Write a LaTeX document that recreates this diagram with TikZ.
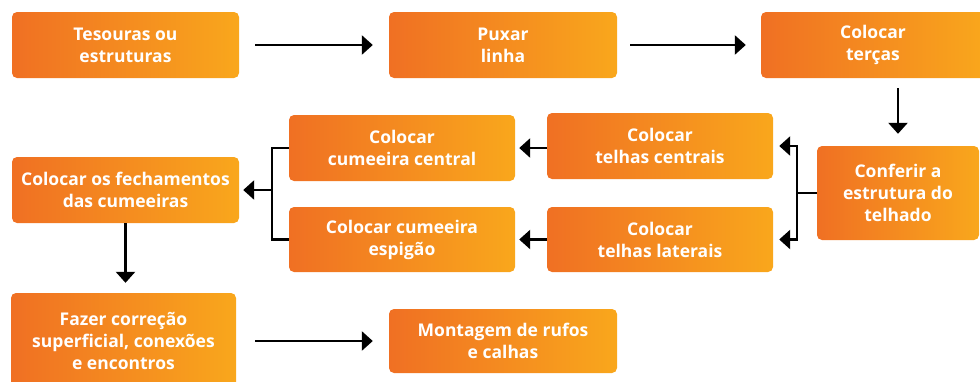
\documentclass[tikz,border=0pt]{standalone}
\usepackage{fontspec}
\setmainfont{Open Sans}
\usetikzlibrary{arrows.meta}
\definecolor{oL}{RGB}{240,112,35}
\definecolor{oR}{RGB}{249,167,28}
\tikzset{
  box/.style={rounded corners=5pt, left color=oL, right color=oR, draw=none,
    inner sep=0pt, align=center, text=white,
    font=\fontsize{17.5}{22}\selectfont\bfseries},
  conn/.style={line width=2.6pt, black},
  arr/.style={conn, -{Triangle[width=19pt,length=11pt]}}
}
\newcommand{\bx}[6]{% name, x1, y1, x2, y2, text
  \node[box, minimum width={(#4-#2)*1pt}, minimum height={(#5-#3)*1pt}]
    (#1) at ({(#2+#4)/2},{(#3+#5)/2}) {#6};}
\begin{document}
\begin{tikzpicture}[x=1pt,y=-1pt]
\useasboundingbox (0,0) rectangle (980,381);
\bx{b1}{12}{12}{239}{78}{Tesouras ou\\estruturas}
\bx{b2}{389}{12}{617}{78}{Puxar\\linha}
\bx{b3}{761}{12}{985}{78}{Colocar\\terças}
\bx{conf}{817}{146}{979}{240}{Conferir a\\estrutura do\\telhado}
\bx{tc}{547}{113}{773}{179}{Colocar\\telhas centrais}
\bx{tl}{547}{207}{773}{272}{Colocar\\telhas laterais}
\bx{cc}{289}{115}{515}{181}{Colocar\\cumeeira central}
\bx{ce}{289}{207}{515}{272}{Colocar cumeeira\\espigão}
\bx{fech}{12}{157}{239}{223}{Colocar os fechamentos\\das cumeeiras}
\bx{fazer}{11}{293}{236}{389}{Fazer correção\\superficial, conexões\\e encontros}
\bx{mont}{389}{309}{617}{373}{Montagem de rufos\\e calhas}

\draw[arr] ([xshift=16pt]b1.east) -- ([xshift=-16pt]b2.west);
\draw[arr] ([xshift=13pt]b2.east) -- ([xshift=-15pt]b3.west);
\draw[arr] ([yshift=-10pt]conf.north |- b3.south) -- ([yshift=12pt]conf.north);
\draw[conn] (conf.west) -- ++(-20,0) coordinate (j1);
\draw[arr] (j1) |- ([xshift=6pt]tc.east);
\draw[arr] (j1) |- ([xshift=6pt]tl.east);
\draw[arr] (tc.west |- cc.east) -- ([xshift=4pt]cc.east);
\draw[arr] (tl.west) -- ([xshift=4pt]ce.east);
\coordinate (j2) at ([xshift=-17pt]cc.west |- fech.east);
\draw[conn] (cc.west) -- ++(-17,0) |- (ce.west);
\draw[arr] (j2) -- ([xshift=4pt]fech.east);
\draw[arr] (fech.south) -- ([yshift=10pt]fech.south |- fazer.north);
\draw[arr] ([xshift=19pt]fazer.east |- mont.west) -- ([xshift=-16pt]mont.west);
\end{tikzpicture}
\end{document}
